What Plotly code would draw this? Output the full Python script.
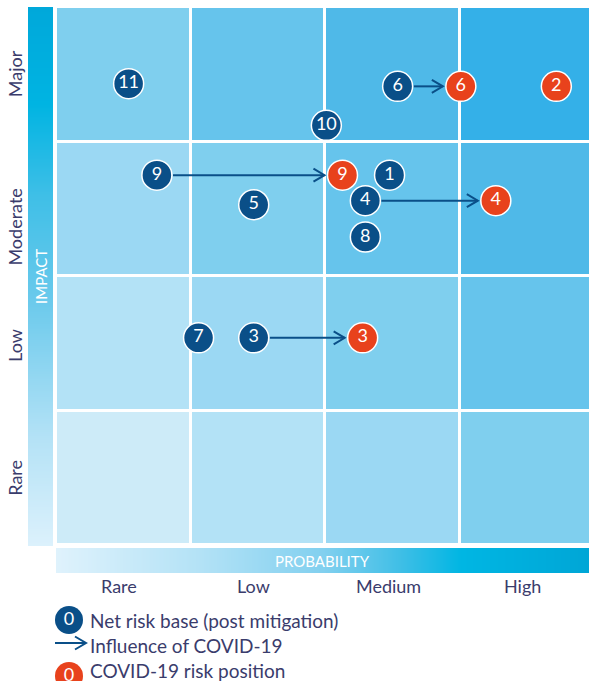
import numpy as np
import plotly.graph_objects as go

# categories
prob_levels = ["Rare", "Low", "Medium", "High"]
impact_levels = ["Rare", "Low", "Moderate", "Major"]
impact_label_pos = [0.5, 1.48, 2.36, 3.5]

# net risk base (post mitigation)
base_ids = ["11", "6", "10", "9", "1", "5", "4", "8", "7", "3"]
base_prob = [0.54, 2.54, 2.01, 0.75, 2.48, 1.47, 2.30, 2.30, 1.06, 1.47]
base_impact = [3.43, 3.41, 3.12, 2.75, 2.75, 2.53, 2.56, 2.29, 1.54, 1.54]

# COVID-19 risk position
covid_ids = ["6", "2", "9", "4", "3"]
covid_prob = [3.01, 3.72, 2.13, 3.27, 2.28]
covid_impact = [3.41, 3.41, 2.75, 2.56, 1.54]

# risks moved by COVID-19
moved = ["6", "9", "4", "3"]

# cell shading, by (row + column)
cell_palette = ["#cdebf8", "#b3e2f6", "#9bd8f3", "#7fcfee", "#66c4ec", "#4fb9e8", "#34b0e8"]

NAVY = "#0a4f88"
RED = "#e8421c"
TXT = "#3a3c6c"
FONT = "Lato, 'Open Sans', sans-serif"
PX = 134.5  # pixels per grid unit
W, H = 589, 681


def fx(px):
    return px / W


def fy(py):
    return (H - py) / H


fig = go.Figure()

# matrix cells
z = [[r + c for c in range(4)] for r in range(4)]
n = len(cell_palette) - 1
fig.add_trace(go.Heatmap(
    x=[0.5, 1.5, 2.5, 3.5], y=[0.5, 1.5, 2.5, 3.5], z=z,
    zmin=0, zmax=n, colorscale=[[i / n, col] for i, col in enumerate(cell_palette)],
    xgap=3, ygap=3, showscale=False, hoverinfo="skip", xaxis="x", yaxis="y"
))

# gradient bars
steps = np.linspace(0, 1, 80)
grad_v = [[0, "#dcf1fc"], [0.2, "#b4e2f6"], [0.45, "#6ccaec"], [0.65, "#3fbfe7"],
          [0.82, "#00b4e2"], [1, "#00a8da"]]
fig.add_trace(go.Heatmap(
    x=[0, 1], y=steps, z=[[s, s] for s in steps], colorscale=grad_v, zsmooth="best",
    showscale=False, hoverinfo="skip", xaxis="x2", yaxis="y2"
))
grad_h = [[0, "#dff2fc"], [0.27, "#b3e2f6"], [0.5, "#82d0ef"], [0.65, "#3dbee6"],
          [0.76, "#00b6e3"], [1, "#00a6d6"]]
fig.add_trace(go.Heatmap(
    x=steps, y=[0, 1], z=[list(steps), list(steps)], colorscale=grad_h, zsmooth="best",
    showscale=False, hoverinfo="skip", xaxis="x3", yaxis="y3"
))

# arrows: base -> covid position
ax, ay = [], []
for rid in moved:
    i = base_ids.index(rid)
    j = covid_ids.index(rid)
    x0, y0 = base_prob[i], base_impact[i]
    x1, y1 = covid_prob[j], covid_impact[j]
    tip = x1 - 18 / PX
    ax += [x0 + 16 / PX, tip, None, tip - 11 / PX, tip, tip - 11 / PX, None]
    ay += [y0, y1, None, y1 + 6.5 / PX, y1, y1 - 6.5 / PX, None]
fig.add_trace(go.Scatter(x=ax, y=ay, mode="lines", line=dict(color=NAVY, width=2),
                         hoverinfo="skip", xaxis="x", yaxis="y"))

# risk bubbles
fig.add_trace(go.Scatter(
    x=base_prob, y=base_impact, text=base_ids, mode="markers+text",
    marker=dict(size=30, color=NAVY, line=dict(color="white", width=1.5)),
    textfont=dict(family=FONT, size=18, color="white"), textposition="middle center",
    hoverinfo="skip", cliponaxis=False, xaxis="x", yaxis="y"
))
fig.add_trace(go.Scatter(
    x=covid_prob, y=covid_impact, text=covid_ids, mode="markers+text",
    marker=dict(size=30, color=RED, line=dict(color="white", width=1.5)),
    textfont=dict(family=FONT, size=18, color="white"), textposition="middle center",
    hoverinfo="skip", cliponaxis=False, xaxis="x", yaxis="y"
))

# legend (own axes in page pixels)
fig.add_trace(go.Scatter(
    x=[69, 69], y=[620, 676], text=["0", "0"], mode="markers+text",
    marker=dict(size=28, color=[NAVY, RED]),
    textfont=dict(family=FONT, size=18, color="white"), textposition="middle center",
    hoverinfo="skip", cliponaxis=False, xaxis="x4", yaxis="y4"
))
fig.add_trace(go.Scatter(
    x=[55, 86, None, 75, 86, 75], y=[643, 643, None, 636.5, 643, 649.5], mode="lines",
    line=dict(color=NAVY, width=2), hoverinfo="skip", xaxis="x4", yaxis="y4"
))
legend_text = ["Net risk base (post mitigation)", "Influence of COVID-19", "COVID-19 risk position"]
for t, py in zip(legend_text, [620, 645, 670]):
    fig.add_annotation(x=88, y=py, xref="x4", yref="y4", text=t, showarrow=False,
                       xanchor="left", yanchor="middle",
                       font=dict(family=FONT, size=19, color=TXT))

# axis labels
for k, lab in enumerate(prob_levels):
    fig.add_annotation(x=k + 0.47, y=fy(586), xref="x", yref="paper", text=lab, showarrow=False,
                       yanchor="middle", font=dict(family=FONT, size=18, color=TXT))
for lab, yy in zip(impact_levels, impact_label_pos):
    fig.add_annotation(x=fx(15), y=yy, xref="paper", yref="y", text=lab, showarrow=False,
                       textangle=-90, xanchor="center", yanchor="middle",
                       font=dict(family=FONT, size=18, color=TXT))
fig.add_annotation(x=0.5, y=0.5, xref="x2 domain", yref="y2 domain", text="IMPACT", showarrow=False,
                   textangle=-90, font=dict(family=FONT, size=15, color="white"))
fig.add_annotation(x=0.5, y=0.5, xref="x3 domain", yref="y3 domain",
                   text="PROBABILITY", showarrow=False,
                   font=dict(family=FONT, size=15, color="white"))

hidden = dict(visible=False, fixedrange=True)
fig.update_layout(
    width=W, height=H,
    margin=dict(l=0, r=0, t=0, b=0),
    paper_bgcolor="white", plot_bgcolor="white",
    showlegend=False,
    xaxis=dict(domain=[fx(56), 1], range=[0, (W - 56) / PX], **hidden),
    yaxis=dict(domain=[fy(545), fy(7)], range=[0, (545 - 7) / PX], **hidden),
    xaxis2=dict(domain=[fx(28), fx(53)], range=[0, 1], anchor="y2", **hidden),
    yaxis2=dict(domain=[fy(546), fy(7)], range=[0, 1], anchor="x2", **hidden),
    xaxis3=dict(domain=[fx(56), 1], range=[0, 1], anchor="y3", **hidden),
    yaxis3=dict(domain=[fy(573), fy(548)], range=[0, 1], anchor="x3", **hidden),
    xaxis4=dict(domain=[0, 1], range=[0, W], anchor="y4", **hidden),
    yaxis4=dict(domain=[0, fy(600)], range=[H, 600], anchor="x4", **hidden),
)

# drop the page's default body margin so the figure fills the window
fig.write_html("out.html", config={"displayModeBar": False},
               post_script="document.body.style.margin='0';document.body.style.overflow='hidden';")
